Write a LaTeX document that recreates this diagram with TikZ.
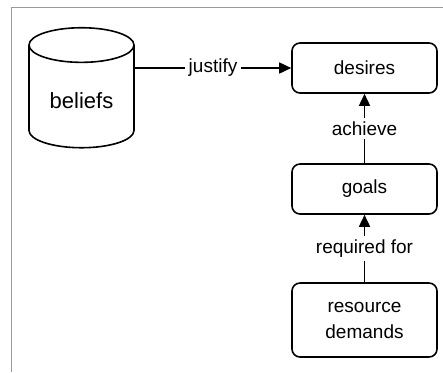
\documentclass[tikz,border=0pt]{standalone}
\usepackage{fontspec}
\setmainfont{Liberation Sans}
\usetikzlibrary{shapes.geometric,arrows.meta}
\begin{document}
\begin{tikzpicture}[x=0.5pt,y=-0.5pt,
		box/.style={draw,thick,rounded corners=4pt,minimum width=72.5pt,minimum height=25pt,align=center,font=\fontsize{9.5}{13}\selectfont},
		lbl/.style={fill=white,inner sep=2pt,font=\fontsize{9.5}{11}\selectfont},
		arr/.style={thick,-{Triangle[length=6pt,width=5.5pt]}}]
		\useasboundingbox (0,0) rectangle (443,372);
		\draw[gray!80,line width=0.5pt] (11.5,372) |- (443,7.5);
		\node[cylinder,draw,thick,shape border rotate=90,aspect=0.45,minimum width=52.5pt,minimum height=60pt,font=\fontsize{11}{13}\selectfont] (beliefs) at (81.5,101) {beliefs};
		\node[box] (desires) at (364.5,68) {desires};
		\node[box] (goals) at (364.5,189) {goals};
		\node[box,minimum height=37pt] (demands) at (364.5,320) {resource\\demands};
		\draw[arr] (beliefs.east |- desires.west) -- node[lbl]{justify} (desires.west);
		\draw[arr] (goals) -- node[lbl]{achieve} (desires);
		\draw[arr] (demands) -- node[lbl]{required for} (goals);
	\end{tikzpicture}
\end{document}
